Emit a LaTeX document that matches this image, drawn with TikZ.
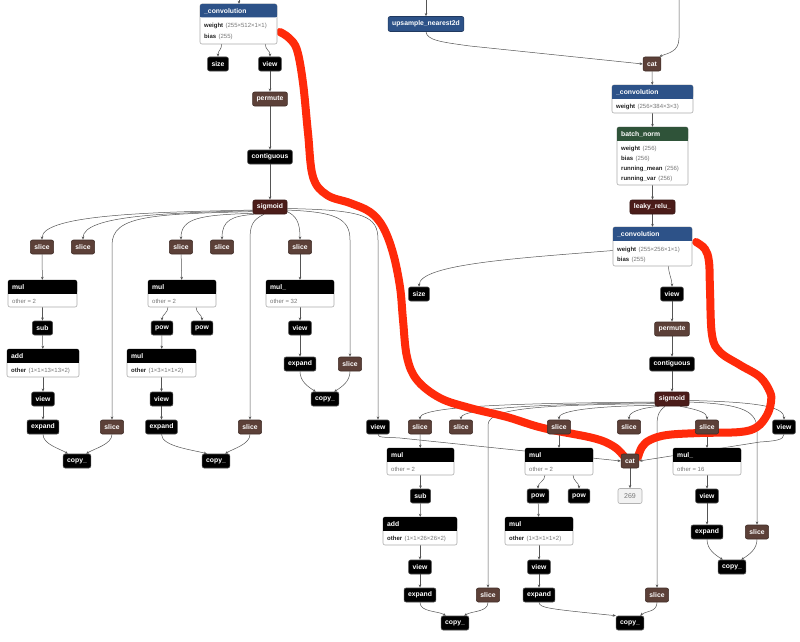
\documentclass[tikz,border=0pt]{standalone}
\usepackage{fontspec}
\setmainfont{Liberation Sans}
\usetikzlibrary{arrows.meta}
\definecolor{cblue}{HTML}{2D5288}
\definecolor{cgreen}{HTML}{2F5339}
\definecolor{cbrown}{HTML}{5C4038}
\definecolor{cmaroon}{HTML}{4B1C19}
\definecolor{cedge}{HTML}{555555}
\definecolor{cred}{HTML}{FF2A0A}
\definecolor{cgray}{HTML}{777777}
\definecolor{cdark}{HTML}{222222}
\pgfdeclarelayer{bg}
\pgfdeclarelayer{mid}
\pgfsetlayers{bg,mid,main}
\tikzset{
 opbase/.style={rounded corners=2pt, inner xsep=4pt, inner ysep=0pt, minimum height=14pt, text=white, font=\fontsize{6.8}{8}\selectfont\bfseries, line width=0.6pt},
 opk/.style={opbase, fill=black, draw=gray!60!black},
 opbr/.style={opbase, fill=cbrown, draw=cbrown!70!black},
 opmr/.style={opbase, fill=cmaroon, draw=cmaroon!70!black},
 opbl/.style={opbase, fill=cblue, draw=cblue!70!black},
 cnst/.style={opbase, fill=gray!10, draw=gray!60, text=cgray, font=\fontsize{7}{8}\selectfont, minimum width=24pt, minimum height=15pt},
 edge/.style={draw=cedge, line width=0.5pt, -{Stealth[length=3.2pt,width=2.6pt]}},
 boxbase/.style={draw=gray!65, fill=white, rounded corners=2pt, line width=0.6pt, inner sep=0pt, outer sep=0pt},
 ttl/.style={text=white, font=\fontsize{6.8}{8}\selectfont\bfseries, inner sep=0pt, anchor=west},
 bline/.style={font=\fontsize{6}{7}\selectfont, text=cgray, inner sep=0pt, anchor=base west},
 hl/.style={draw=cred, line width=8pt, line cap=round, line join=round},
}
\newcommand\opbox[7]{%
  \node[boxbase, minimum width=#4pt, minimum height=#5pt, anchor=north west] (#1) at (#2,#3) {};
  \fill[#6, rounded corners=2pt] (#1.north west) rectangle ([yshift=-13.5pt]#1.north east);
  \fill[#6] ([yshift=-7pt]#1.north west) rectangle ([yshift=-13.5pt]#1.north east);
  \node[ttl] at ([xshift=4pt,yshift=-7pt]#1.north west) {#7};
}
\newcommand\bodyline[3]{\node[bline] at ([xshift=4pt,yshift=-#2pt]#1.north west) {#3};}
\newcommand\wv[2]{{\color{cdark}\bfseries #1}\hspace{0.4em}(#2)}
\begin{document}
\begin{tikzpicture}[x=1pt,y=-1pt]
\useasboundingbox (0,0) rectangle (800,642);
\begin{pgfonlayer}{bg}
\fill[white] (0,0) rectangle (800,642);
\end{pgfonlayer}
% ---------------- left part ----------------
\coordinate (t1) at (239,0);
\opbox{conv1}{200}{4}{77}{40}{cblue}{\_convolution}
\bodyline{conv1}{24}{\wv{weight}{255×512×1×1}}
\bodyline{conv1}{34}{\wv{bias}{255}}
\node[opk] (size1) at (218,64) {size};
\node[opk] (view1) at (270,64) {view};
\node[opbr] (permute1) at (270,99) {permute};
\node[opk] (contig1) at (270,157) {contiguous};
\node[opmr] (sig1) at (270,207) {sigmoid};
\node[opbr] (s1) at (42,247) {slice};
\node[opbr] (s2) at (83,247) {slice};
\node[opbr] (s3) at (181,247) {slice};
\node[opbr] (s4) at (222,247) {slice};
\node[opbr] (s5) at (300,247) {slice};
% group A
\opbox{mulA}{8}{280}{69}{27}{black}{mul}
\bodyline{mulA}{23}{other = 2}
\node[opk] (subA) at (42.5,328) {sub};
\opbox{addA}{7}{349}{72}{28}{black}{add}
\bodyline{addA}{23.5}{\wv{other}{1×1×13×13×2}}
\node[opk] (viewA) at (43,399) {view};
\node[opk] (expandA) at (43,427) {expand};
\node[opbr] (sliceA) at (112,427) {slice};
\node[opk] (copyA) at (77,461) {copy\_};
% group B
\opbox{mulB}{148}{280}{68}{27}{black}{mul}
\bodyline{mulB}{23}{other = 2}
\node[opk] (powB1) at (162,328) {pow};
\node[opk] (powB2) at (202,328) {pow};
\opbox{mulB2}{127}{349}{69}{28}{black}{mul}
\bodyline{mulB2}{23.5}{\wv{other}{1×3×1×1×2}}
\node[opk] (viewB) at (161.5,399) {view};
\node[opk] (expandB) at (161.5,427) {expand};
\node[opbr] (sliceB) at (250,427) {slice};
\node[opk] (copyB) at (216,461) {copy\_};
% group C
\opbox{mulC}{266}{280}{68}{27}{black}{mul\_}
\bodyline{mulC}{23}{other = 32}
\node[opk] (viewC) at (300,328) {view};
\node[opk] (expandC) at (300,364) {expand};
\node[opbr] (sliceC) at (350,364) {slice};
\node[opk] (copyC) at (325,399) {copy\_};
\node[opk] (viewD) at (378,427) {view};
% ---------------- right part ----------------
\coordinate (t2) at (426,0);
\coordinate (t3) at (679,0);
\node[opbl, minimum height=15pt] (upsample) at (426,24) {upsample\_nearest2d};
\node[opbr] (cat1) at (652,64) {cat};
\opbox{conv3}{612}{85}{81}{28}{cblue}{\_convolution}
\bodyline{conv3}{23.5}{\wv{weight}{256×384×3×3}}
\opbox{bn}{617}{127}{71}{58}{cgreen}{batch\_norm}
\bodyline{bn}{23}{\wv{weight}{256}}
\bodyline{bn}{33}{\wv{bias}{256}}
\bodyline{bn}{43}{\wv{running\_mean}{256}}
\bodyline{bn}{53}{\wv{running\_var}{256}}
\node[opmr] (leaky) at (652.5,207) {leaky\_relu\_};
\opbox{conv4}{613}{227}{79}{39}{cblue}{\_convolution}
\bodyline{conv4}{24}{\wv{weight}{255×256×1×1}}
\bodyline{conv4}{34}{\wv{bias}{255}}
\node[opk] (size2) at (419,294) {size};
\node[opk] (view2) at (672,294) {view};
\node[opbr] (permute2) at (672,329) {permute};
\node[opk] (contig2) at (672,364) {contiguous};
\node[opmr] (sig2) at (672,399) {sigmoid};
\node[opbr] (r1) at (420,427) {slice};
\node[opbr] (r2) at (461,427) {slice};
\node[opbr] (r3) at (559,427) {slice};
\node[opbr] (r4) at (629,427) {slice};
\node[opbr] (r5) at (707,427) {slice};
\node[opk] (viewE) at (784,427) {view};
% group D
\opbox{mulD}{387}{448}{67}{27}{black}{mul}
\bodyline{mulD}{23}{other = 2}
\node[opk] (subD) at (420.5,496) {sub};
\opbox{addD}{383}{517}{74}{28}{black}{add}
\bodyline{addD}{23.5}{\wv{other}{1×1×26×26×2}}
\node[opk] (viewD2) at (420,567) {view};
\node[opk] (expandD) at (420,595) {expand};
\node[opbr] (sliceD) at (488,595) {slice};
\node[opk] (copyD) at (455,623) {copy\_};
% group E
\opbox{mulE}{525}{448}{68}{27}{black}{mul}
\bodyline{mulE}{23}{other = 2}
\node[opk] (powE1) at (538,496) {pow};
\node[opk] (powE2) at (579,496) {pow};
\opbox{mulE2}{505}{517}{68}{28}{black}{mul}
\bodyline{mulE2}{23.5}{\wv{other}{1×3×1×1×2}}
\node[opk] (viewE2) at (539,567) {view};
\node[opk] (expandE) at (539,595) {expand};
\node[opbr] (sliceE) at (657,595) {slice};
\node[opk] (copyE) at (630,623) {copy\_};
% group F
\opbox{mulF}{673}{448}{68}{27}{black}{mul\_}
\bodyline{mulF}{23}{other = 16}
\node[opk] (viewF) at (707,496) {view};
\node[opk] (expandF) at (707,532) {expand};
\node[opbr] (sliceF) at (757,532) {slice};
\node[opk] (copyF) at (732,567) {copy\_};
\node[opbr] (cat2) at (630,461) {cat};
\node[cnst] (c269) at (630,496) {269};
% ---------------- edges ----------------
\begin{pgfonlayer}{bg}
\draw[edge] (t1) -- (conv1.north -| t1);
\draw[edge] ([xshift=-17pt]conv1.south) .. controls +(0,7) and +(0,-7) .. (size1.north);
\draw[edge] ([xshift=27pt]conv1.south) .. controls +(0,7) and +(0,-7) .. (view1.north);
\draw[edge] (view1) -- (permute1);
\draw[edge] (permute1) -- (contig1);
\draw[edge] (contig1) -- (sig1);
\draw[edge] (sig1.190) .. controls (160,212) and (42,214) .. (s1.north);
\draw[edge] (sig1.192) .. controls (170,213) and (83,215) .. (s2.north);
\draw[edge] (sig1.195) .. controls (150,214) and (112,216) .. (112,245) -- (sliceA.north);
\draw[edge] (sig1.200) .. controls (200,215) and (181,218) .. (s3.north);
\draw[edge] (sig1.205) .. controls (232,216) and (222,220) .. (s4.north);
\draw[edge] ([xshift=-6pt]sig1.south) .. controls (252,220) and (250,226) .. (250,240) -- (sliceB.north);
\draw[edge] (sig1.-15) .. controls (296,216) and (300,222) .. (s5.north);
\draw[edge] (sig1.-10) .. controls (335,212) and (350,218) .. (350,240) -- (sliceC.north);
\draw[edge] (sig1.-5) .. controls (365,210) and (378,216) .. (378,240) -- (viewD.north);
\draw[edge] (s1) -- (mulA);
\draw[edge] (mulA) -- (subA);
\draw[edge] (subA) -- (addA);
\draw[edge] (addA) -- (viewA);
\draw[edge] (viewA) -- (expandA);
\draw[edge] (expandA.south) .. controls +(0,10) and +(-8,-5) .. ([xshift=5pt]copyA.north west);
\draw[edge] (sliceA.south) .. controls +(0,10) and +(8,-5) .. ([xshift=-5pt]copyA.north east);
\draw[edge] (s3) -- (mulB);
\draw[edge] ([xshift=-14pt]mulB.south) .. controls +(0,6) and +(0,-6) .. (powB1.north);
\draw[edge] ([xshift=14pt]mulB.south) .. controls +(0,6) and +(0,-6) .. (powB2.north);
\draw[edge] (powB1) -- (mulB2);
\draw[edge] (mulB2) -- (viewB);
\draw[edge] (viewB) -- (expandB);
\draw[edge] (expandB.south) .. controls +(0,12) and +(-15,-4) .. ([xshift=5pt]copyB.north west);
\draw[edge] (sliceB.south) .. controls +(0,10) and +(8,-5) .. ([xshift=-5pt]copyB.north east);
\draw[edge] (s5) -- (mulC);
\draw[edge] (mulC) -- (viewC);
\draw[edge] (viewC) -- (expandC);
\draw[edge] (expandC.south) .. controls +(0,10) and +(-8,-5) .. ([xshift=5pt]copyC.north west);
\draw[edge] (sliceC.south) .. controls +(0,10) and +(8,-5) .. ([xshift=-5pt]copyC.north east);
% right
\draw[edge] (t2) -- (upsample);
\draw[edge] (upsample.south) .. controls (427,40) and (440,42) .. (470,46) -- (cat1.west);
\draw[edge] (t3) -- (679,38) .. controls (679,52) and (668,53) .. ([xshift=-2pt]cat1.north east);
\draw[edge] (cat1) -- (conv3);
\draw[edge] (conv3) -- (bn);
\draw[edge] (bn) -- (leaky);
\draw[edge] (leaky) -- (conv4);
\draw[edge] ([yshift=-4pt]conv4.west) .. controls (520,258) and (420,264) .. (size2.north);
\draw[edge] ([xshift=16pt]conv4.south) .. controls +(0,8) and +(0,-8) .. (view2.north);
\draw[edge] (view2) -- (permute2);
\draw[edge] (permute2) -- (contig2);
\draw[edge] (contig2) -- (sig2);
\draw[edge] (sig2.190) .. controls (540,403) and (420,405) .. (r1.north);
\draw[edge] (sig2.192) .. controls (560,404) and (461,407) .. (r2.north);
\draw[edge] (sig2.195) .. controls (540,405) and (488,408) .. (488,425) -- (sliceD.north);
\draw[edge] (sig2.200) .. controls (600,406) and (559,410) .. (r3.north);
\draw[edge] (sig2.210) .. controls (640,408) and (629,412) .. (r4.north);
\draw[edge] ([xshift=-7pt]sig2.south) .. controls (660,410) and (657,414) .. (657,425) -- (sliceE.north);
\draw[edge] ([xshift=8pt]sig2.south) .. controls (700,410) and (707,413) .. (r5.north);
\draw[edge] (sig2.-10) .. controls (745,404) and (757,412) .. (757,430) -- (sliceF.north);
\draw[edge] (sig2.-5) .. controls (765,402) and (784,408) .. (viewE.north);
\draw[edge] (r1) -- (mulD);
\draw[edge] (mulD) -- (subD);
\draw[edge] (subD) -- (addD);
\draw[edge] (addD) -- (viewD2);
\draw[edge] (viewD2) -- (expandD);
\draw[edge] (expandD.south) .. controls +(0,10) and +(-8,-5) .. ([xshift=5pt]copyD.north west);
\draw[edge] (sliceD.south) .. controls +(0,10) and +(8,-5) .. ([xshift=-5pt]copyD.north east);
\draw[edge] (r3) -- (mulE);
\draw[edge] ([xshift=-14pt]mulE.south) .. controls +(0,6) and +(0,-6) .. (powE1.north);
\draw[edge] ([xshift=14pt]mulE.south) .. controls +(0,6) and +(0,-6) .. (powE2.north);
\draw[edge] (powE1) -- (mulE2);
\draw[edge] (mulE2) -- (viewE2);
\draw[edge] (viewE2) -- (expandE);
\draw[edge] (expandE.south) .. controls (539,608) and (550,609) .. (copyE.north west);
\draw[edge] (sliceE.south) .. controls +(0,10) and +(6,-5) .. ([xshift=-4pt]copyE.north east);
\draw[edge] (r5) -- (mulF);
\draw[edge] (mulF) -- (viewF);
\draw[edge] (viewF) -- (expandF);
\draw[edge] (expandF.south) .. controls +(0,10) and +(-8,-5) .. ([xshift=5pt]copyF.north west);
\draw[edge] (sliceF.south) .. controls +(0,10) and +(8,-5) .. ([xshift=-5pt]copyF.north east);
\draw[edge] (viewD.south) .. controls (378,438) and (385,437) .. (400,438) -- (cat2.west);
\draw[edge] (viewE.south) .. controls (784,440) and (775,441) .. (760,442) -- (cat2.east);
\draw[edge] (cat2) -- (c269);
\end{pgfonlayer}
% ---------------- red highlight strokes ----------------
\begin{pgfonlayer}{mid}
\draw[hl] plot[smooth, tension=0.6] coordinates {(280,32) (289,38) (297,50) (303,83) (308,133) (313,177) (327,195) (350,203) (370,212) (383,227) (393,253) (400,287) (403,320) (407,357) (417,380) (440,398) (470,408) (507,417) (543,428) (593,438) (613,446) (623,455) (626,459)};
\draw[hl] plot[smooth, tension=0.6] coordinates {(696,242) (705,249) (709,262) (710,290) (712,335) (720,352) (740,365) (760,377) (770,392) (771,402) (767,415) (757,427) (740,432) (700,433) (667,435) (650,440) (642,447) (638,457)};
\end{pgfonlayer}
\end{tikzpicture}
\end{document}
